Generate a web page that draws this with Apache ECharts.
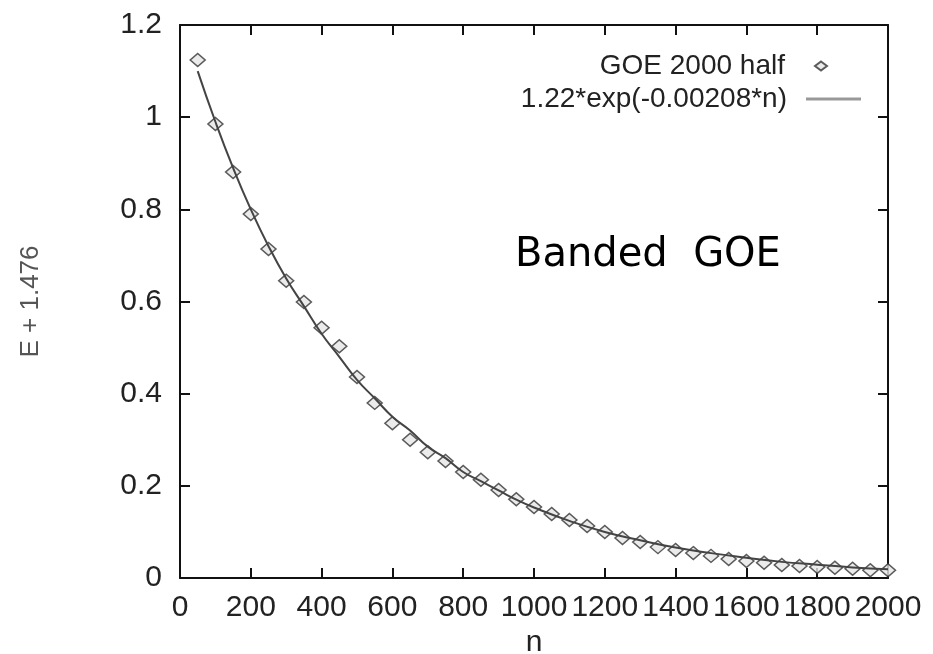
<!DOCTYPE html>
<html>
<head>
<meta charset="utf-8">
<title>Banded GOE</title>
<script src="https://cdn.jsdelivr.net/npm/echarts@6/dist/echarts.min.js"></script>
<style>
  html, body { margin: 0; padding: 0; background: #fff; }
  #chart { width: 933px; height: 654px; }
</style>
</head>
<body>
<div id="chart"></div>
<script>
  // points: GOE 2000 half
  var nValues = [50, 100, 150, 200, 250, 300, 350, 400, 450, 500,
                 550, 600, 650, 700, 750, 800, 850, 900, 950, 1000,
                 1050, 1100, 1150, 1200, 1250, 1300, 1350, 1400, 1450, 1500,
                 1550, 1600, 1650, 1700, 1750, 1800, 1850, 1900, 1950, 2000]
  var goeValues = [1.124, 0.985, 0.881, 0.790, 0.714, 0.645, 0.599, 0.543, 0.503, 0.436,
                   0.380, 0.336, 0.300, 0.273, 0.254, 0.230, 0.213, 0.191, 0.171, 0.154,
                   0.139, 0.126, 0.113, 0.100, 0.087, 0.078, 0.067, 0.061, 0.054, 0.048,
                   0.041, 0.037, 0.033, 0.028, 0.026, 0.024, 0.022, 0.020, 0.017, 0.017]
  // fit curve
  var fitN = [50, 100, 150, 200, 250, 300, 350, 400, 450, 500,
              550, 600, 650, 700, 750, 800, 850, 900, 950, 1000,
              1100, 1200, 1300, 1400, 1500, 1600, 1700, 1800, 1900, 2000]
  var fitValues = [1.10, 0.99, 0.89, 0.80, 0.72, 0.65, 0.59, 0.53, 0.48, 0.43,
                   0.39, 0.35, 0.32, 0.285, 0.26, 0.23, 0.21, 0.19, 0.17, 0.153,
                   0.124, 0.10, 0.082, 0.066, 0.054, 0.044, 0.035, 0.029, 0.023, 0.019]

  var pointsName = 'GOE 2000 half'
  var fitName = '1.22*exp(-0.00208*n)'

  var font = 'Liberation Sans'
  var grid = { left: 180, right: 45, top: 25, bottom: 76, outerBoundsMode: 'none' }

  function zip(xs, ys){
    var out = []
    for (var i = 0; i < xs.length; i++) out.push([xs[i], ys[i]])
    return out
  }

  var tickStyle = { inside: true, length: 10, lineStyle: { color: '#111', width: 2 } }
  var lineStyle = { onZero: false, lineStyle: { color: '#111', width: 2 } }

  var myChart = echarts.init(document.getElementById('chart'))
  var option = {
    backgroundColor: '#fff',
    animation: false,
    grid: grid,
    legend: [
      {
        data: [{ name: pointsName, icon: 'diamond' }],
        orient: 'vertical',
        align: 'right',
        right: 100,
        top: 47,
        itemWidth: 12,
        itemHeight: 9,
        textStyle: { fontFamily: font, fontSize: 28, color: '#222', padding: [0, 25, 0, 0] }
      },
      {
        data: [{ name: fitName, icon: 'rect', itemStyle: { color: '#999' } }],
        orient: 'vertical',
        align: 'right',
        right: 67,
        top: 80,
        itemWidth: 55,
        itemHeight: 3,
        textStyle: { fontFamily: font, fontSize: 28, color: '#222', padding: [0, 14, 0, 0] }
      }
    ],
    xAxis: [
      {
        type: 'value', min: 0, max: 2000, interval: 200,
        name: 'n', nameLocation: 'middle', nameGap: 49,
        nameTextStyle: { fontFamily: font, fontSize: 30, color: '#222' },
        axisLine: lineStyle, axisTick: tickStyle, splitLine: { show: false },
        axisLabel: {
          fontFamily: font, fontSize: 30, color: '#222', margin: 15,
          hideOverlap: false, showMaxLabel: true, showMinLabel: true,
          formatter: function(v){ return String(v) }
        }
      },
      {
        type: 'value', min: 0, max: 2000, interval: 200, position: 'top',
        axisLine: lineStyle, axisTick: tickStyle, splitLine: { show: false },
        axisLabel: { show: false }
      }
    ],
    yAxis: [
      {
        type: 'value', min: 0, max: 1.2, interval: 0.2,
        name: 'E + 1.476', nameLocation: 'middle', nameGap: 136, nameRotate: 90,
        nameTextStyle: { fontFamily: font, fontSize: 26, color: '#555' },
        axisLine: lineStyle, axisTick: tickStyle, splitLine: { show: false },
        axisLabel: { fontFamily: font, fontSize: 30, color: '#222', margin: 18 }
      },
      {
        type: 'value', min: 0, max: 1.2, interval: 0.2, position: 'right',
        axisLine: lineStyle, axisTick: tickStyle, splitLine: { show: false },
        axisLabel: { show: false }
      }
    ],
    graphic: [
      {
        type: 'text', left: 515, top: 236,
        style: { text: 'Banded  GOE', fontFamily: 'DejaVu Sans', fontSize: 40, fill: '#000' }
      }
    ],
    series: [
      {
        name: pointsName,
        type: 'scatter',
        symbol: 'diamond',
        symbolSize: [15, 13],
        itemStyle: { color: '#e6e6e6', borderColor: '#333', borderWidth: 1.5 },
        data: zip(nValues, goeValues),
        z: 2
      },
      {
        name: fitName,
        type: 'line',
        smooth: true,
        symbol: 'none',
        lineStyle: { color: '#444', width: 2 },
        data: zip(fitN, fitValues),
        z: 3
      }
    ]
  }
  myChart.setOption(option)
</script>
</body>
</html>
